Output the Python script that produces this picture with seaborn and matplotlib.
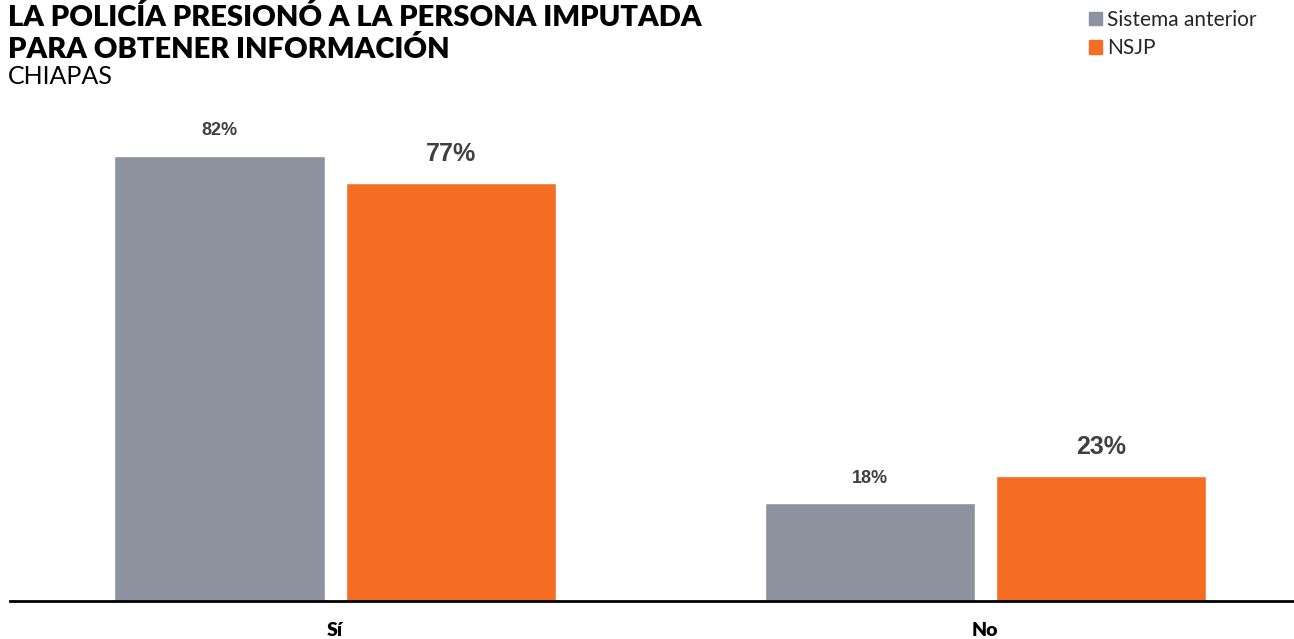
import pandas as pd
import seaborn as sns
import matplotlib.pyplot as plt

respuestas = ['Sí', 'No']
series = ['Sistema anterior', 'NSJP']
sistema_anterior = [82, 18]
nsjp = [77, 23]
colores = ['#8E929E', '#F46D22']

df = pd.DataFrame({
    'respuesta': respuestas * 2,
    'sistema': [series[0]] * 2 + [series[1]] * 2,
    'valor': sistema_anterior + nsjp,
})

sns.set_theme(style='white')
plt.rcParams['font.family'] = ['Lato', 'DejaVu Sans']

W, H = 1294, 639
fig = plt.figure(figsize=(W / 100, H / 100), dpi=100)
ax = fig.add_axes([10 / W, 38 / H, 1284 / W, 92 * 5.43 / H])

sns.barplot(data=df, x='respuesta', y='valor', hue='sistema', palette=colores,
            width=0.711, gap=0.091, saturation=1, ax=ax)

ax.set_xlim(-0.5, 1.475)
ax.set_ylim(0, 92)
ax.set_xlabel('')
ax.set_ylabel('')
ax.set_yticks([])
for s in ['top', 'left', 'right']:
    ax.spines[s].set_visible(False)
ax.spines['bottom'].set_color('black')
ax.spines['bottom'].set_linewidth(2)
ax.tick_params(axis='x', length=0, pad=15, labelsize=14)
for t in ax.get_xticklabels():
    t.set_fontweight('heavy')
    t.set_color('black')

# etiquetas de valor
tamanos = [13, 18]
for cont, vals, fs in zip(ax.containers, [sistema_anterior, nsjp], tamanos):
    ax.bar_label(cont, labels=[f'{v}%' for v in vals], padding=12, fontsize=fs,
                 fontweight='bold', color='#404040', family='Liberation Sans')

ax.get_legend().remove()
handles = [plt.Rectangle((0, 0), 1, 1, color=c) for c in colores]
fig.legend(handles, series, loc='upper left', bbox_to_anchor=(1089 / W, 1 - 10 / H),
           frameon=False, fontsize=15, handlelength=0.6, handleheight=0.6,
           handletextpad=0.25, labelspacing=0.4, borderaxespad=0, borderpad=0)

fig.text(8 / W, 1 - 18 / H, 'LA POLICÍA PRESIONÓ A LA PERSONA IMPUTADA', fontsize=21,
         fontweight='heavy', va='center', ha='left', color='black')
fig.text(8 / W, 1 - 49 / H, 'PARA OBTENER INFORMACIÓN', fontsize=21,
         fontweight='heavy', va='center', ha='left', color='black')
fig.text(8 / W, 1 - 76 / H, 'CHIAPAS', fontsize=18, va='center', ha='left',
         color='black')

fig.savefig('out.png', dpi=100)
